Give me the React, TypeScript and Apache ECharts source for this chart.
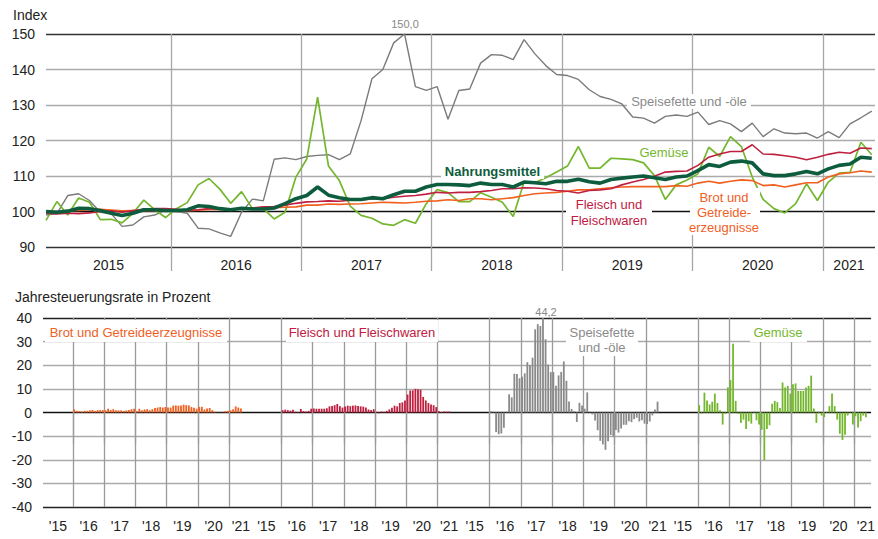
import React, { useEffect, useRef } from 'react';
import * as echarts from 'echarts';

const FONT = '"Liberation Sans", Arial, sans-serif';

// Monthly index values Jan 2015 – May 2021 (2015 = 100)
const speisefette = [
  99, 99.4, 104.5, 105, 103.1, 99.8, 99.4, 95.8, 96.2, 98.5, 99, 100.4,
  100, 99.5, 95.3, 95.1, 94, 93, 99.8, 103.5, 103, 114.7, 115.1, 114.6,
  115.5, 115.8, 116, 114.6, 116.2, 125.6, 137.4, 140, 147.5, 150, 135.2, 134.1,
  135.2, 126, 134.1, 134.5, 141.8, 144.2, 144, 142.8, 148.4, 144.4, 141.1, 138.6,
  138.3, 137.2, 134.3, 132.4, 131.6, 130.3, 126.6, 126.3, 124.9, 126.8, 127.2, 126.8,
  128, 124.5, 125.6, 124.7, 122.5, 124.9, 121.1, 123.3, 122.1, 121.9, 122.1, 120.7,
  122.5, 120.8, 124.7, 126.4, 128.3,
];
const gemuese = [
  97.5, 102.8, 99, 103.8, 102.6, 97.7, 97.8, 96.8, 99.5, 103.2, 100.5, 98.3,
  100.8, 102.5, 107.5, 109.3, 106.3, 102.3, 105.6, 100.8, 100.8, 97.9, 99.8, 109.7,
  114.8, 132.2, 112.8, 108.7, 101.5, 98.9, 98.1, 96.5, 96.1, 97.7, 96.7, 102.2,
  106.2, 105.3, 102.8, 102.8, 105.3, 104, 102.6, 98.6, 108.3, 108.1, 109.5, 111.1,
  112.8, 118.3, 112.2, 112.2, 115, 114.8, 114.6, 113.7, 110.1, 103.4, 107.5, 108.9,
  110.6, 118.1, 115.5, 121.1, 118.3, 109.7, 103.4, 100.8, 99.6, 102.2, 107.8, 103.1,
  108.3, 110.8, 111, 119.5, 116,
];
const nahrungsmittel = [
  100, 99.8, 100.1, 100.9, 100.8, 100.3, 99.5, 98.9, 99.5, 100.5, 100.5, 100.3,
  100.3, 100.5, 101.6, 101.4, 100.8, 100.5, 100.9, 100.7, 100.7, 101, 102.2, 103.6,
  104.5, 106.9, 104.6, 103.9, 103.4, 103.4, 103.9, 103.6, 104.7, 105.7, 105.7, 106.9,
  107.6, 107.6, 107.5, 107.3, 108, 107.6, 107.6, 106.9, 108.3, 108.1, 107.8, 108.5,
  108.5, 109.1, 108.4, 108, 109, 109.4, 109.7, 110, 109.5, 109, 109.7, 110,
  111.5, 113.2, 112.7, 113.9, 114.2, 113.7, 110.6, 110.1, 110.1, 110.6, 111.3, 110.6,
  112, 113, 113.4, 115.3, 115,
];
const fleisch = [
  99.5, 99.3, 99.5, 99.4, 99.6, 100, 100.2, 99.8, 100.3, 100.6, 100.8, 100.8,
  100.6, 100.3, 100.5, 100.8, 100.8, 100.6, 101, 101, 101.3, 101.4, 101.8, 102.3,
  102.7, 102.8, 103, 102.9, 103.2, 103.3, 103.5, 103.6, 104, 104.3, 104.5, 104.9,
  105.4, 105.2, 105.4, 105.4, 105.6, 105.9, 106.4, 106.4, 106.7, 106.6, 106.4, 105.9,
  105.7, 105.2, 105.9, 106.1, 106.4, 107.5, 108.3, 109, 109.9, 111.1, 111.3, 111.4,
  113, 115.3, 116.2, 116.9, 116.9, 118.8, 116.2, 116.1, 115.7, 115.3, 114.6, 115.3,
  116.1, 116.7, 116.4, 117.9, 117.7,
];
const brot = [
  99.7, 99.7, 100.2, 100.3, 100.5, 100.6, 100.4, 100.2, 100.3, 100.2, 100.3, 100.2,
  100.2, 100.2, 100.4, 100.6, 100.6, 100.7, 100.8, 101, 100.9, 101.1, 101.2, 101.3,
  101.8, 101.8, 102.1, 102, 102.1, 102.2, 102.4, 102.6, 102.5, 102.4, 102.6, 102.9,
  103, 103.3, 103.1, 103.6, 103.6, 103.3, 103.6, 103.9, 104.5, 105, 105.2, 105.4,
  105.7, 106.1, 106.1, 106.4, 106.7, 106.9, 107, 107, 107, 107, 107.3, 107.1,
  108, 108.5, 108, 108.5, 108.9, 108.7, 107.3, 107.5, 106.9, 107.5, 108.1, 108.1,
  109.7, 110.6, 110.9, 111.4, 111.1,
];

// Annual inflation rates in percent, Jan 2016 – May 2021
const rateBrot = [
  1.3, 0.7, 0.6, 0.4, 0.7, 0.7, 0.9, 1.1, 0.6, 1.0, 1.1, 1.0,
  0.9, 1.6, 1.1, 1.4, 0.9, 0.9, 0.9, 0.7, 0.9, 1.1, 1.4, 1.6,
  0.6, 1.6, 0.9, 1.3, 1.4, 1.0, 1.4, 1.9, 2.1, 2.3, 2.1, 2.3,
  2.1, 2.1, 2.9, 3.0, 2.9, 3.0, 3.3, 3.1, 3.0, 2.3, 2.0, 1.6,
  2.4, 2.4, 1.3, 1.7, 1.9, 1.0, 0.3, 0.1, 0.1, 0.1, 0.6, 0.7,
  0.9, 1.4, 2.6, 2.1, 1.7,
];
const rateFleisch = [
  1.0, 1.2, 1.0, 0.8, 1.2, 0.3, 0.2, 1.5, 0.6, 0.4, 0.7, 1.6,
  1.7, 1.6, 1.6, 1.6, 1.6, 1.8, 2.6, 2.8, 3.1, 3.6, 2.7, 2.1,
  2.5, 2.9, 2.7, 2.9, 3.0, 2.8, 2.6, 2.5, 2.1, 1.3, 1.0, 1.4,
  0.3, -0.3, 0.4, 0.3, 0.7, 1.3, 2.0, 2.9, 2.6, 4.0, 4.3, 5.1,
  7.6, 9.3, 9.4, 10.0, 9.8, 9.7, 6.6, 5.1, 4.0, 3.4, 3.1, 2.3,
  0.6, 0.2, 0.4, 0.4, 0.4,
];
const rateSpeisefette = [
  0.5, 0.2, -8.3, -9.2, -8.9, -6.5, 0.3, 7.7, 6.4, 16.4, 16.3, 14.5,
  15.2, 16.6, 21.3, 20.0, 23.2, 35.2, 37.4, 36.6, 44.2, 31.0, 20.3, 17.1,
  17.1, 11.3, 15.7, 17.2, 21.6, 13.4, 4.7, 1.5, 0.6, -4.0, 4.1, 3.0,
  1.6, 8.5, 0.3, -0.8, -3.4, -7.5, -12.0, -13.5, -15.8, -12.2, -9.5, -10.2,
  -7.4, -8.5, -6.8, -5.2, -5.2, -3.7, -4.1, -2.8, -2.2, -3.8, -3.3, -4.7,
  -4.9, -3.8, -1.2, 1.3, 4.6,
];
const rateGemuese = [
  3.1, -0.4, 8.4, 5.1, 3.4, 4.6, 8.0, 4.0, 0.9, -5.1, -0.5, 10.6,
  13.7, 29.1, 4.9, -0.6, -4.4, -3.0, -7.0, -3.7, -4.7, 0.3, -3.3, -5.1,
  -7.3, -20.1, -7.0, -5.4, 3.7, 4.9, 4.4, 1.9, 12.7, 10.6, 11.3, 8.0,
  12.0, 12.3, 9.1, 9.1, 9.1, 10.6, 11.3, 15.6, 1.7, -4.4, 0.3, -1.3,
  -2.0, 0.2, 2.7, 8.0, 2.7, -3.0, -9.0, -11.6, -9.4, -1.3, 0.3, -5.1,
  -1.6, -6.3, -3.7, -1.3, -2.0,
];

const yearLabels = ['2015', '2016', '2017', '2018', '2019', '2020', '2021'];
const shortYearLabels = ["'15", "'16", "'17", "'18", "'19", "'20", "'21"];

// month-index helpers (0 = Jan 2015)
const topYearBounds = [11.5, 23.5, 35.5, 47.5, 59.5, 71.5];
const topLabelPos = [5.75, 17.5, 29.5, 41.5, 53.5, 65.5, 73.9];
const PANEL = 80; // month slots per panel in the lower chart
const panelLabelPos = [5.75, 17.5, 29.5, 41.5, 53.5, 65.5, 76];
const RATE_START = 12; // rates begin Jan 2016

const C_GREY = '#7b7b7b';
const C_GREEN = '#74b72e';
const C_DARK = '#0d5c3e';
const C_RED = '#c0203f';
const C_ORANGE = '#f0601f';

function toPairs(arr: number[]) {
  return arr.map((v, i) => [i, v]);
}
function ratePairs(arr: number[], panel: number) {
  return arr.map((v, i) => [panel * PANEL + RATE_START + i, v]);
}

function buildOption() {
  const bottomTicks: number[] = [];
  const bottomLabels: number[] = [];
  for (let k = 0; k < 4; k++) {
    topYearBounds.forEach((t) => bottomTicks.push(k * PANEL + t));
    panelLabelPos.forEach((t) => bottomLabels.push(k * PANEL + t));
  }
  const axisText = { fontSize: 14, color: '#222', fontFamily: FONT };
  const txt = (text: string, x: number, y: number, color: string, extra: any = {}) => ({
    type: 'text',
    x,
    y,
    z: 6,
    style: {
      text,
      fill: color,
      fontSize: 13,
      fontFamily: FONT,
      align: 'center',
      verticalAlign: 'middle',
      textAlign: 'center',
      textVerticalAlign: 'middle',
      ...extra,
    },
  });
  const box = (x: number, y: number, w: number, h: number) => ({
    type: 'rect',
    z: 5,
    shape: { x, y, width: w, height: h },
    style: { fill: '#ffffff' },
  });
  const lineSeries = (name: string, data: number[], color: string, width: number, z = 3) => ({
    name,
    type: 'line',
    xAxisIndex: 0,
    yAxisIndex: 0,
    data: toPairs(data),
    symbol: 'none',
    z,
    lineStyle: { color, width },
    itemStyle: { color },
  });
  const barSeries = (name: string, data: number[], panel: number, color: string) => ({
    name,
    type: 'bar',
    xAxisIndex: 1,
    yAxisIndex: 1,
    data: ratePairs(data, panel),
    barWidth: 1.8,
    barGap: '-100%',
    z: 3,
    itemStyle: { color },
  });

  return {
    animation: false,
    backgroundColor: '#ffffff',
    textStyle: { fontFamily: FONT },
    grid: [
      { left: 46, top: 34, width: 829, height: 213 },
      { left: 43, top: 318, width: 829, height: 189 },
    ],
    xAxis: [
      {
        type: 'value',
        gridIndex: 0,
        min: 0,
        max: 76.3,
        axisLine: { show: false },
        axisTick: { show: true, customValues: topYearBounds, length: 24, lineStyle: { color: '#a6a6a6', width: 1.3 } },
        splitLine: { show: true, lineStyle: { color: '#a6a6a6', width: 1.3 } },
        axisLabel: {
          customValues: topLabelPos,
          margin: 11,
          ...axisText,
          formatter: (v: number) => yearLabels[Math.floor((v + 0.5) / 12)],
        },
      },
      {
        type: 'value',
        gridIndex: 1,
        min: 0,
        max: 318,
        axisLine: { show: false },
        axisTick: { show: true, customValues: bottomTicks, length: 32, lineStyle: { color: '#9a9a9a', width: 1.3 } },
        splitLine: { show: true, lineStyle: { color: '#9a9a9a', width: 1.3 } },
        axisLabel: {
          customValues: bottomLabels,
          margin: 12,
          ...axisText,
          formatter: (v: number) => shortYearLabels[Math.floor(((v % PANEL) + 0.5) / 12)],
        },
      },
    ],
    yAxis: [
      {
        type: 'value',
        gridIndex: 0,
        min: 90,
        max: 150,
        interval: 10,
        axisLine: { show: false },
        axisTick: { show: false },
        axisLabel: { margin: 11, ...axisText },
        splitLine: {
          show: true,
          lineStyle: { color: ['#333', '#111', '#aaa', '#aaa', '#aaa', '#aaa', '#333'], width: 1.4 },
        },
      },
      {
        type: 'value',
        gridIndex: 1,
        min: -40,
        max: 40,
        interval: 10,
        axisLine: { show: false },
        axisTick: { show: false },
        axisLabel: { margin: 11, ...axisText },
        splitLine: {
          show: true,
          lineStyle: { color: ['#222', '#aaa', '#aaa', '#aaa', '#111', '#aaa', '#aaa', '#aaa', '#222'], width: 1.4 },
        },
      },
    ],
    series: [
      lineSeries('Speisefette und -öle', speisefette, C_GREY, 1.4),
      lineSeries('Gemüse', gemuese, C_GREEN, 1.7),
      lineSeries('Brot und Getreideerzeugnisse', brot, C_ORANGE, 1.6),
      lineSeries('Fleisch und Fleischwaren', fleisch, C_RED, 1.6),
      lineSeries('Nahrungsmittel', nahrungsmittel, C_DARK, 3.6, 4),
      barSeries('Brot und Getreideerzeugnisse (Rate)', rateBrot, 0, C_ORANGE),
      barSeries('Fleisch und Fleischwaren (Rate)', rateFleisch, 1, C_RED),
      barSeries('Speisefette und -öle (Rate)', rateSpeisefette, 2, '#8a8a8a'),
      barSeries('Gemüse (Rate)', rateGemuese, 3, C_GREEN),
    ],
    graphic: {
      elements: [
        txt('Index', 13, 15, '#222', { fontSize: 14, align: 'left', textAlign: 'left' }),
        txt('Jahresteuerungsrate in Prozent', 15, 297, '#222', { fontSize: 14, align: 'left', textAlign: 'left' }),
        txt('150,0', 405, 24, '#888', { fontSize: 11 }),
        box(627, 94, 124, 15),
        txt('Speisefette und -öle', 689, 101, '#8a8a8a', { fontSize: 13 }),
        txt('Gemüse', 664, 152, C_GREEN, { fontSize: 13 }),
        box(441, 164, 103, 15),
        txt('Nahrungsmittel', 492.5, 171, C_DARK, { fontSize: 13, fontWeight: 'bold' }),
        box(566, 196, 86, 32),
        txt('Fleisch und\nFleischwaren', 609, 212, C_RED, { fontSize: 13, lineHeight: 16 }),
        box(690, 188, 70, 47),
        txt('Brot und\nGetreide-\nerzeugnisse', 724, 212, C_ORANGE, { fontSize: 13, lineHeight: 15 }),
        box(45, 320, 182, 22),
        txt('Brot und Getreideerzeugnisse', 136, 332, C_ORANGE, { fontSize: 13 }),
        box(286, 320, 152, 22),
        txt('Fleisch und Fleischwaren', 362, 332, C_RED, { fontSize: 13 }),
        box(566, 320, 72, 36),
        txt('Speisefette\nund -öle', 602, 339.5, '#8a8a8a', { fontSize: 13, lineHeight: 15 }),
        box(750, 320, 57, 22),
        txt('Gemüse', 778, 332, C_GREEN, { fontSize: 13 }),
        txt('44,2', 546, 311.5, '#888', { fontSize: 11 }),
      ],
    },
  };
}

export default function App() {
  const ref = useRef<HTMLDivElement>(null);
  useEffect(() => {
    if (!ref.current) return;
    const chart = echarts.init(ref.current, null, { renderer: 'svg' });
    chart.setOption(buildOption() as any);
    return () => chart.dispose();
  }, []);
  return (
    <div
      ref={ref}
      style={{ position: 'fixed', left: 0, top: 0, width: 878, height: 539, background: '#fff' }}
    />
  );
}
